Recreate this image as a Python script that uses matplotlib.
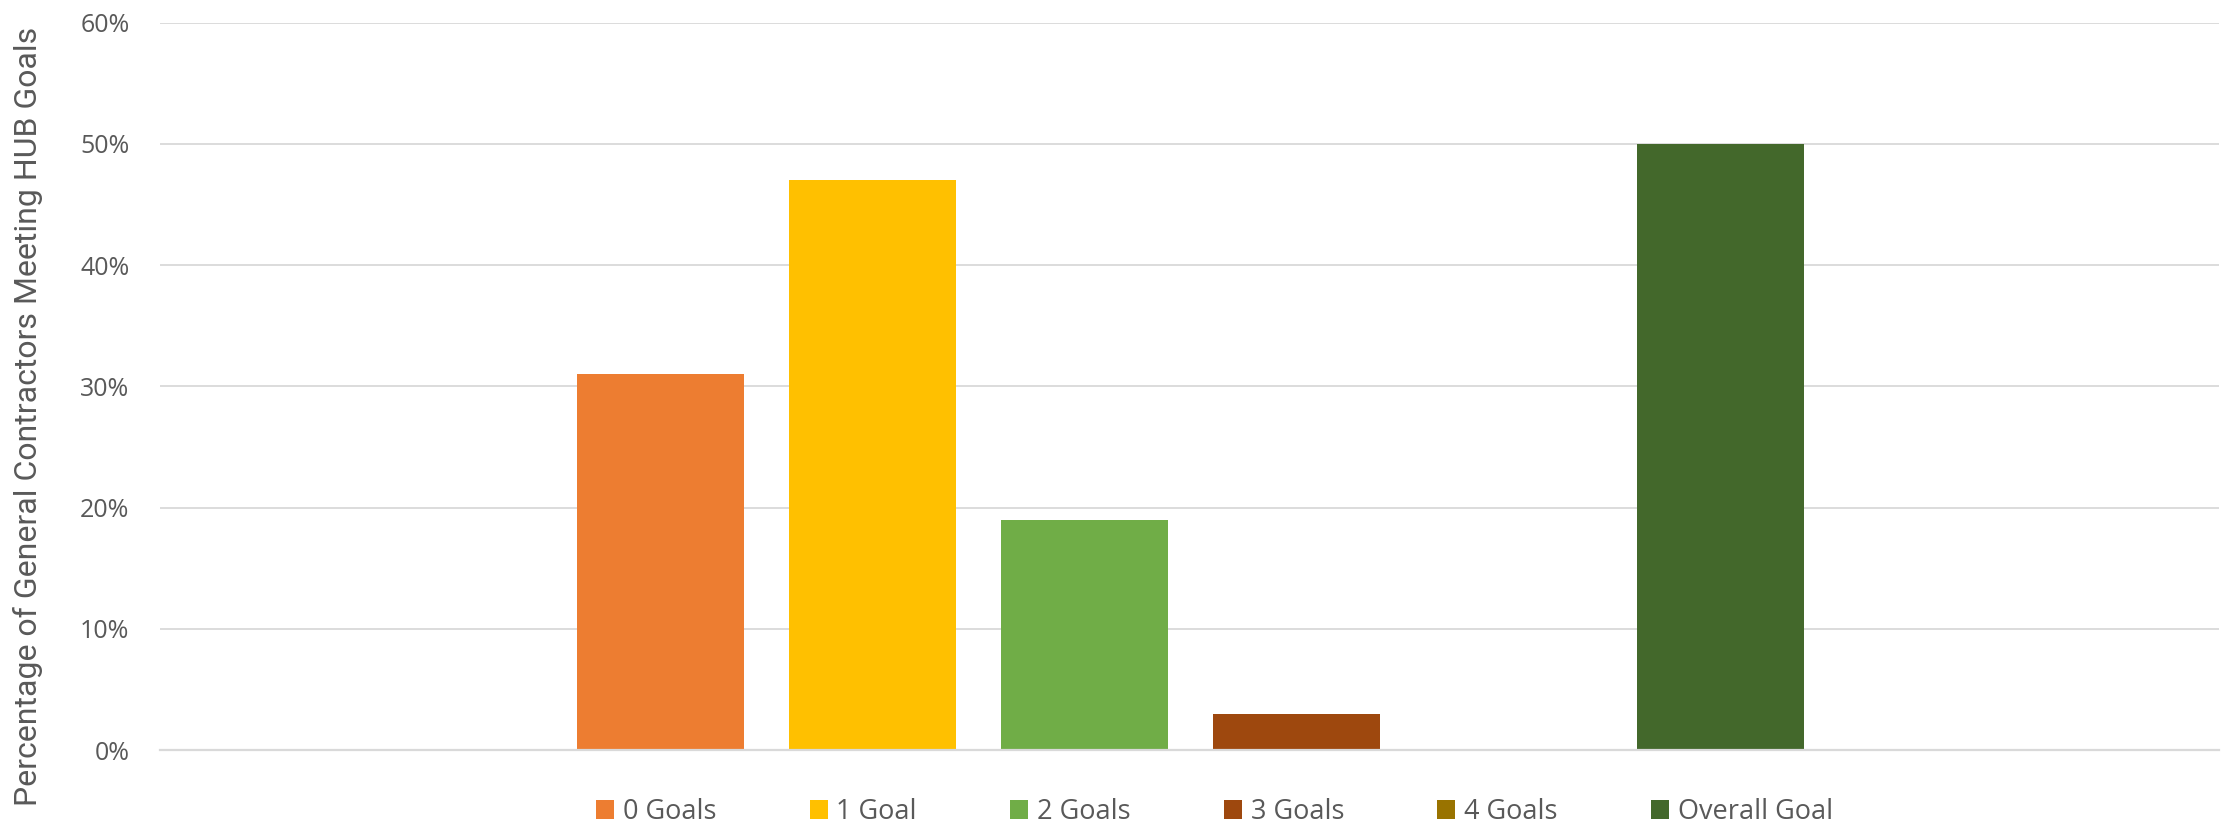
import matplotlib
matplotlib.use("Agg")
import matplotlib.pyplot as plt
from matplotlib.patches import Patch
from matplotlib.ticker import PercentFormatter
import numpy as np

# Data
series_names = ["0 Goals", "1 Goal", "2 Goals", "3 Goals", "4 Goals", "Overall Goal"]
values = [31, 47, 19, 3, 0, 50]
colors = ["#ED7D31", "#FFC000", "#70AD47", "#9E480E", "#997300", "#43682B"]
yticks = [0, 10, 20, 30, 40, 50, 60]
ylabel = "Percentage of General Contractors Meeting HUB Goals"

W, H = 2221, 825
fig = plt.figure(figsize=(W / 100, H / 100), dpi=100)
ax = fig.add_axes([160 / W, 1 - 750 / H, (2219 - 160) / W, (750 - 22.7) / H])

x = np.arange(len(values))
ax.bar(x, values, width=0.788, color=colors, zorder=3)

ax.set_xlim(-2.36, 7.35)
ax.set_ylim(0, 60)
ax.set_yticks(yticks)
ax.yaxis.set_major_formatter(PercentFormatter(decimals=0))
ax.set_xticks([])
ax.grid(axis="y", color="#D9D9D9", linewidth=1.3, zorder=0)
for s in ["top", "right", "left"]:
    ax.spines[s].set_visible(False)
ax.spines["bottom"].set_color("#D9D9D9")
ax.spines["bottom"].set_linewidth(1.6)
ax.spines["bottom"].set_zorder(4)
ax.tick_params(axis="y", length=0, pad=22, labelsize=18, labelcolor="#595959")
for lab in ax.get_yticklabels():
    lab.set_fontfamily(["Open Sans", "DejaVu Sans"])

yl = fig.text(28 / W, 1 - 416 / H, ylabel, rotation=90, va="center", ha="center",
              fontsize=22, color="#595959", family=["Roboto", "DejaVu Sans"])
fig.canvas.draw()
ext = yl.get_window_extent(renderer=fig.canvas.get_renderer())
yl.set_fontsize(22 * 777 / ext.height)

handles = [Patch(facecolor=c, edgecolor="none") for c in colors]
fs = 19.5
em = fs * 100 / 72
fig.legend(handles, series_names, loc="center left",
           bbox_to_anchor=(596 / W, 1 - 812 / H), ncol=6, frameon=False,
           prop={"family": ["Open Sans", "DejaVu Sans"], "size": fs},
           labelcolor="#595959", handlelength=18 / em, handleheight=18 / em,
           handletextpad=9 / em, columnspacing=93 / em, borderpad=0, borderaxespad=0)

fig.savefig("out.png", dpi=100)
